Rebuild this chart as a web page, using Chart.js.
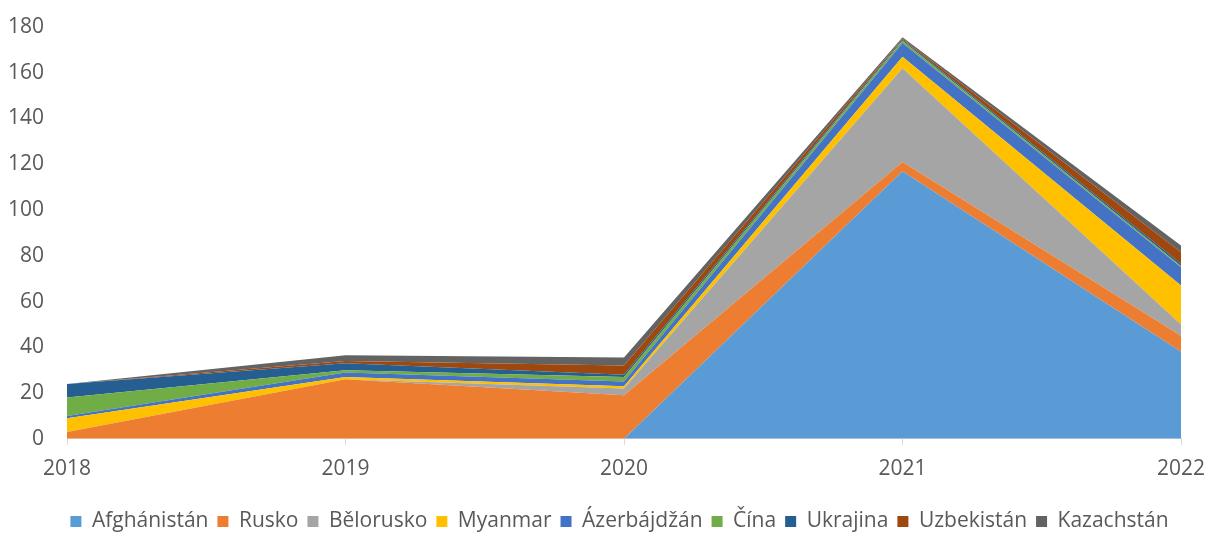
<!DOCTYPE html>
<html lang="cs">
  <head>
    <meta charset="UTF-8" />
    <title>Stacked area</title>
    <style>
      html, body { margin: 0; padding: 0; background: #fff; }
      .wrap { width: 1207px; height: 533px; }
    </style>
    <script src="https://cdn.jsdelivr.net/npm/chart.js"></script>
  </head>
  <body>
    <div class="wrap">
      <canvas id="areaChart" width="1207" height="533"></canvas>
    </div>
    <script>
      const years = ["2018", "2019", "2020", "2021", "2022"];

      const afghanistan = [0, 0, 0, 117, 38];
      const rusko = [3, 26, 19, 4, 7];
      const belorusko = [0, 0, 3, 41, 5];
      const myanmar = [6, 1, 1, 5, 17];
      const azerbajdzan = [1, 2, 2, 6, 8];
      const cina = [8, 1, 2, 1, 0.5];
      const ukrajina = [6, 3, 1, 0.5, 1];
      const uzbekistan = [0, 1, 4, 0.5, 5];
      const kazachstan = [0, 2.5, 3.5, 0.5, 3];

      const yTicks = [0, 20, 40, 60, 80, 100, 120, 140, 160, 180];

      const series = [
        ["Afghánistán", afghanistan, "#5B9BD5"],
        ["Rusko", rusko, "#ED7D31"],
        ["Bělorusko", belorusko, "#A5A5A5"],
        ["Myanmar", myanmar, "#FFC000"],
        ["Ázerbájdžán", azerbajdzan, "#4472C4"],
        ["Čína", cina, "#70AD47"],
        ["Ukrajina", ukrajina, "#255E91"],
        ["Uzbekistán", uzbekistan, "#9E480E"],
        ["Kazachstán", kazachstan, "#636363"],
      ];

      const datasets = series.map(([label, values, color], i) => ({
        label: label,
        data: values,
        backgroundColor: color,
        borderColor: color,
        borderWidth: 0,
        pointRadius: 0,
        fill: i === 0 ? "origin" : "-1",
        tension: 0,
      }));

      const fontFamily = "'Open Sans', sans-serif";

      // posune legendu trochu doprava, jako v puvodnim grafu
      const shiftLegend = {
        id: "shiftLegend",
        afterLayout(chart) {
          if (chart.legend) {
            chart.legend.left += 16;
            chart.legend.right += 16;
          }
        },
      };

      new Chart(document.getElementById("areaChart"), {
        type: "line",
        data: { labels: years, datasets: datasets },
        plugins: [shiftLegend],
        options: {
          responsive: false,
          animation: false,
          layout: { padding: { left: 0, right: 0, top: 27, bottom: -9 } },
          scales: {
            x: {
              offset: false,
              grid: {
                drawOnChartArea: false,
                drawTicks: true,
                tickLength: 6,
                color: "#d9d9d9",
              },
              border: { color: "#d9d9d9", width: 1 },
              ticks: {
                color: "#595959",
                padding: 12,
                maxRotation: 0,
                font: { family: fontFamily, size: 21 },
              },
              afterFit: (axis) => {
                axis.height += 8;
                axis.paddingLeft = 0;
                axis.paddingRight = 26;
              },
            },
            y: {
              stacked: true,
              min: 0,
              max: 180,
              afterBuildTicks: (axis) => {
                axis.ticks = yTicks.map((v) => ({ value: v }));
              },
              afterFit: (axis) => {
                axis.width = 67;
                axis.paddingTop = 0;
                axis.paddingBottom = 0;
              },
              grid: { display: false, drawTicks: false },
              border: { display: false },
              ticks: {
                color: "#595959",
                padding: 23,
                font: { family: fontFamily, size: 21 },
              },
            },
          },
          plugins: {
            legend: {
              position: "bottom",
              labels: {
                color: "#595959",
                boxWidth: 11,
                boxHeight: 11,
                padding: 9,
                font: { family: fontFamily, size: 21 },
              },
            },
            tooltip: { enabled: false },
          },
        },
      });
    </script>
  </body>
</html>
